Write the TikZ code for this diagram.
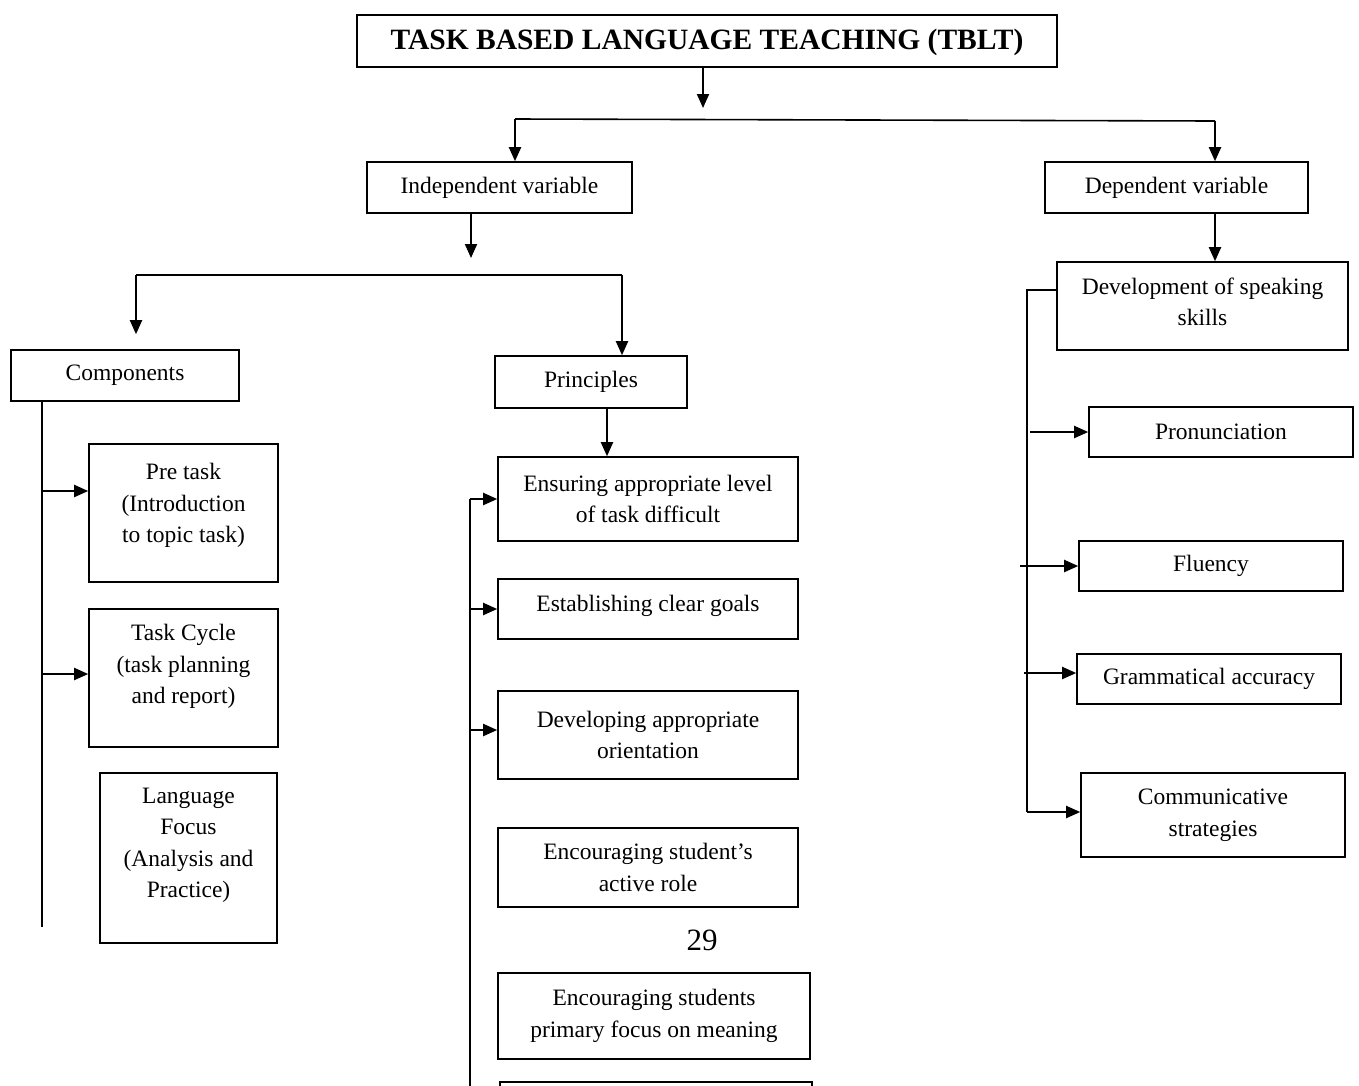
\documentclass[tikz,border=0pt]{standalone}
\usepackage{fontspec}
\setmainfont{Liberation Serif}
\usetikzlibrary{arrows.meta}

\begin{document}
\begin{tikzpicture}[x=1pt,y=-1pt,line width=1.6pt,
            >={Triangle[length=14pt,width=12pt]},
            box/.style={draw,rectangle,align=center,inner sep=0pt,
              font=\fontsize{23.5}{31.5}\selectfont},
            flow/.style={->,line width=2pt}]

        \useasboundingbox (0,0) rectangle (1359,1085);

        % Define boxes
        \node[box,minimum width=700pt,minimum height=52pt,text depth=4pt,
          font=\bfseries\fontsize{29.5}{32}\selectfont] (tblt) at (707,41) {TASK BASED LANGUAGE TEACHING (TBLT)};
        \node[box,minimum width=265pt,minimum height=51pt] (indep) at (499.5,187.5) {Independent variable};
        \node[box,minimum width=263pt,minimum height=51pt] (dep) at (1176.5,187.5) {Dependent variable};

        \node[box,minimum width=228pt,minimum height=51pt] (comp) at (125,375.5) {Components};
        \node[box,minimum width=189pt,minimum height=138pt,text depth=20pt] (pretask) at (183.5,513) {Pre task\\(Introduction\\to topic task)};
        \node[box,minimum width=189pt,minimum height=138pt,text depth=28pt] (taskcyc) at (183.5,678) {Task Cycle\\(task planning\\and report)};
        \node[box,minimum width=177pt,minimum height=170pt,text depth=30pt] (langfoc) at (188.5,858) {Language\\Focus\\(Analysis and\\Practice)};

        \node[box,minimum width=192pt,minimum height=52pt] (princ) at (591,382) {Principles};
        \node[box,minimum width=300pt,minimum height=84pt] (ensur) at (648,499) {Ensuring appropriate level\\of task difficult};
        \node[box,minimum width=300pt,minimum height=60pt,text depth=12pt] (estab) at (648,609) {Establishing clear goals};
        \node[box,minimum width=300pt,minimum height=88pt] (devel) at (648,735) {Developing appropriate\\orientation};
        \node[box,minimum width=300pt,minimum height=79pt] (activ) at (648,867.5) {Encouraging student's\\active role};
        \node[box,minimum width=312pt,minimum height=86pt] (meaning) at (654,1016) {Encouraging students\\primary focus on meaning};
        \node[box,minimum width=312pt,minimum height=56pt] (cutbox) at (656,1110) {};
        \node[font=\fontsize{31}{34}\selectfont] (pagenum) at (702,940) {29};

        \node[box,minimum width=291pt,minimum height=88pt,text depth=9pt] (devspk) at (1202.5,306) {Development of speaking\\skills};
        \node[box,minimum width=264pt,minimum height=50pt] (pron) at (1221,432) {Pronunciation};
        \node[box,minimum width=264pt,minimum height=50pt] (flu) at (1211,566) {Fluency};
        \node[box,minimum width=264pt,minimum height=50pt] (gram) at (1209,679) {Grammatical accuracy};
        \node[box,minimum width=264pt,minimum height=84pt] (comm) at (1213,815) {Communicative\\strategies};

        % Branch points
        \coordinate (t1) at (703,108);
        \coordinate (hl) at (515,119);
        \coordinate (hr) at (1215,121);
        \coordinate (i1) at (471,258);
        \coordinate (il) at (136,275);
        \coordinate (ir) at (622,275);
        \coordinate (pa) at (607,457);
        \coordinate (pb) at (470,1090);
        \coordinate (cb) at (42,927);
        \coordinate (dl) at (1027,812);

        % Draw edges
        \draw[flow] (t1 |- tblt.south) -- (t1);
        \draw (hl) -- (hr);
        \draw[flow] (hl) -- (hl |- indep.north);
        \draw[flow] (hr) -- (hr |- dep.north);

        \draw[flow] (i1 |- indep.south) -- (i1);
        \draw (il) -- (ir);
        \draw[flow,shorten >=15pt] (il) -- (il |- comp.north);
        \draw[flow] (ir) -- (ir |- princ.north);

        \draw (cb |- comp.south) -- (cb);
        \draw[flow] ([yshift=22pt]pretask.west -| cb) -- ([yshift=22pt]pretask.west);
        \draw[flow] ([yshift=4pt]taskcyc.west -| cb) -- ([yshift=4pt]taskcyc.west);

        \draw[flow] (pa |- princ.south) -- (pa |- ensur.north);
        \draw (pb |- ensur) -- (pb);
        \draw[flow] (pb |- ensur) -- (ensur.west);
        \draw[flow] (pb |- estab) -- (estab.west);
        \draw[flow] ([yshift=5pt]devel.west -| pb) -- ([yshift=5pt]devel.west);

        \draw[flow] (hr |- dep.south) -- (hr |- devspk.north);
        \draw ([yshift=16pt]devspk.west) -| (dl);
        \draw[flow] ([xshift=3pt]dl |- pron) -- (pron.west);
        \draw[flow] ([xshift=-7pt]dl |- flu) -- (flu.west);
        \draw[flow] ([xshift=-3pt,yshift=6pt]gram.west -| dl) -- ([yshift=6pt]gram.west);
        \draw[flow] ([yshift=3pt]comm.west -| dl) -- ([yshift=3pt]comm.west);

        \end{tikzpicture}
\end{document}
